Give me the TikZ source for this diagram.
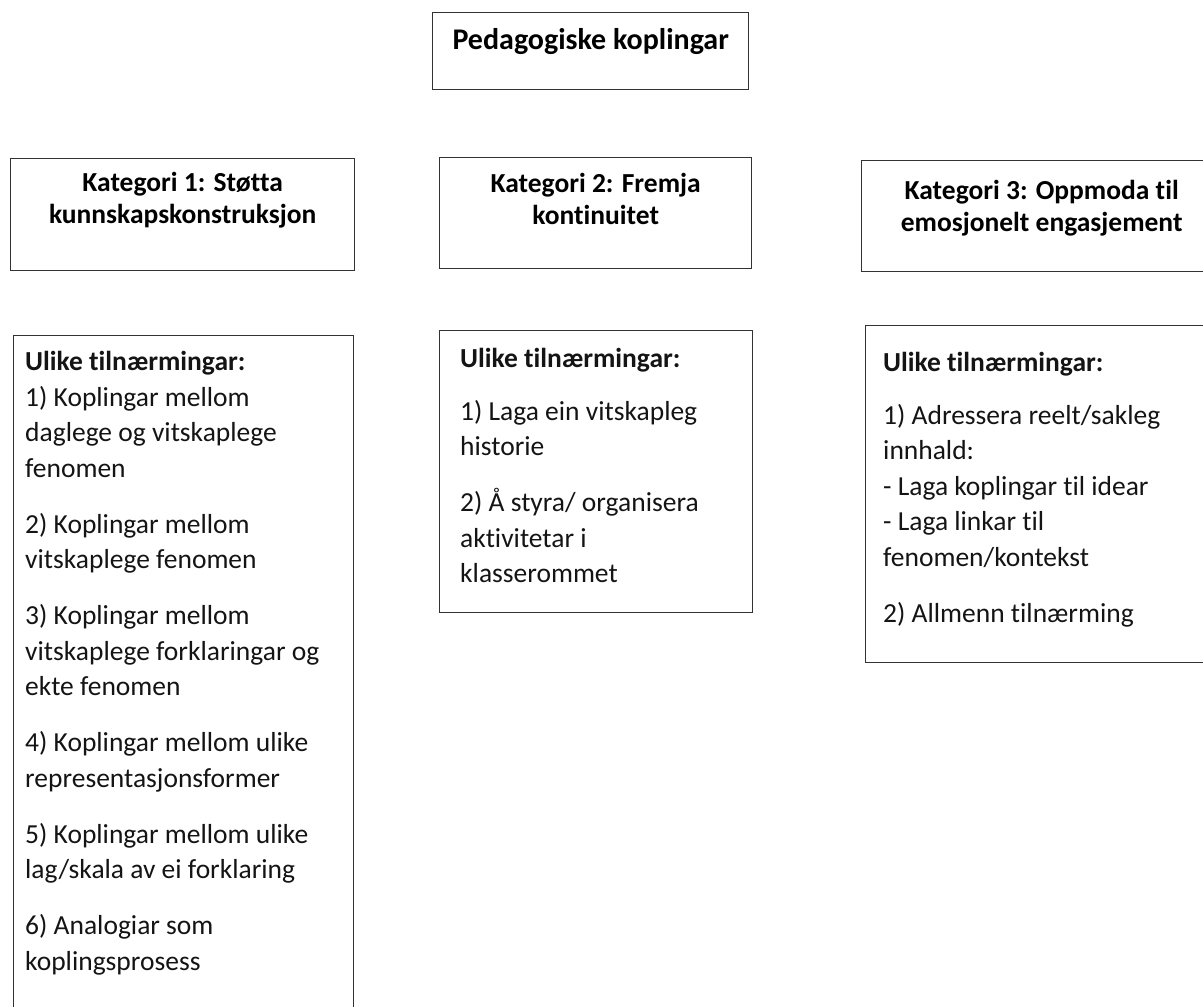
\documentclass[tikz,border=0pt]{standalone}
\usepackage{fontspec}
\setmainfont{Carlito}[Ligatures=NoCommon]
\usetikzlibrary{positioning}

\begin{document}
\begin{tikzpicture}[x=1pt,y=-1pt]

      \tikzset{frame/.style 2 args={draw=black!80, line width=1.4pt, inner sep=0pt, anchor=north west, minimum width=#1, minimum height=#2},
               heading/.style={font=\bfseries\fontsize{27.5}{32}\selectfont, align=center, inner sep=0pt, anchor=north},
               bodytext/.style={font=\fontsize{27.5}{35.5}\selectfont, align=left, inner sep=0pt, anchor=north west, text=black!92}}
      \useasboundingbox (0,0) rectangle (1203,1007);
      \clip (0,0) rectangle (1203,1007);
%% Boxes
      	\node[frame={316}{77}] (main) at (432,12) {};
      	\node[frame={344}{112}] (kat1) at (10,158) {};
      	\node[frame={312}{111}] (kat2) at (439,157) {};
      	\node[frame={360}{111}] (kat3) at (861,160) {};
      	\node[frame={340}{720}] (tiln1) at (13,335) {};
      	\node[frame={313}{282}] (tiln2) at (439,330) {};
      	\node[frame={360}{337}] (tiln3) at (865,325) {};
%% Headings
      	\node[heading, font=\bfseries\fontsize{30}{32}\selectfont, below=16pt of main.north] (mainText) {Pedagogiske koplingar};
      	\node[heading, below=14pt of kat1.north] (kat1Text) {Kategori 1: Støtta\\kunnskapskonstruksjon};
      	\node[heading, below=16pt of kat2.north] (kat2Text) {Kategori 2: Fremja\\kontinuitet};
      	\node[heading, below=20pt of kat3.north] (kat3Text) {Kategori 3: Oppmoda til\\emosjonelt engasjement};
%% Approaches
      	\node[bodytext, below right=16pt and 12pt of tiln1.north west] (tiln1Text)
      	  {\textbf{Ulike tilnærmingar:}\\
      	   1) Koplingar mellom\\daglege og vitskaplege\\fenomen\\[20.5pt]
      	   2) Koplingar mellom\\vitskaplege fenomen\\[20.5pt]
      	   3) Koplingar mellom\\vitskaplege forklaringar og\\ekte fenomen\\[20.5pt]
      	   4) Koplingar mellom ulike\\representasjonsformer\\[20.5pt]
      	   5) Koplingar mellom ulike\\lag/skala av ei forklaring\\[20.5pt]
      	   6) Analogiar som\\koplingsprosess};
      	\node[bodytext, below right=18pt and 21pt of tiln2.north west] (tiln2Text)
      	  {\textbf{Ulike tilnærmingar:}\\[17pt]
      	   1) Laga ein vitskapleg\\historie\\[20.5pt]
      	   2) Å styra/ organisera\\aktivitetar i\\klasserommet};
      	\node[bodytext, below right=27pt and 18pt of tiln3.north west] (tiln3Text)
      	  {\textbf{Ulike tilnærmingar:}\\[17pt]
      	   1) Adressera reelt/sakleg\\innhald:\\
      	   - Laga koplingar til idear\\
      	   - Laga linkar til\\fenomen/kontekst\\[20.5pt]
      	   2) Allmenn tilnærming};

\end{tikzpicture}
\end{document}
